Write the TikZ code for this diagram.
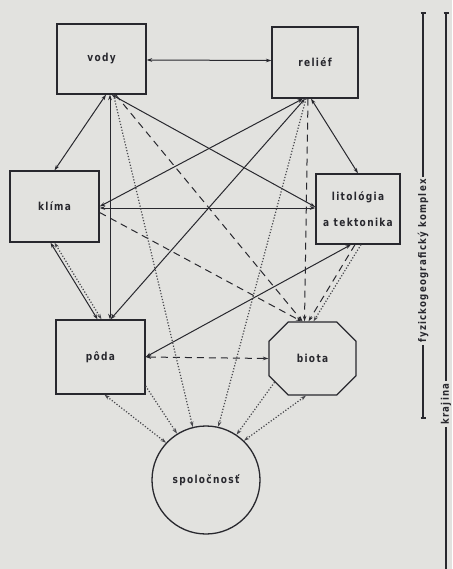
\documentclass[tikz,border=0pt]{standalone}
\usepackage{fontspec}
\newfontfamily\lab{DejaVu Sans}[FakeStretch=0.82,LetterSpace=12]
\usetikzlibrary{arrows.meta,shapes.misc,calc}
\definecolor{bg}{RGB}{226,226,223}
\definecolor{ink}{RGB}{40,40,46}
\begin{document}
\begin{tikzpicture}[x=1pt,y=-1pt,
  box/.style={draw=ink,line width=1.3pt,fill=bg,minimum width=89pt,minimum height=70pt,inner sep=2pt,font=\lab\bfseries\fontsize{11}{13}\selectfont,text=ink},
  oct/.style={box,chamfered rectangle,chamfered rectangle xsep=13pt,chamfered rectangle ysep=13pt,minimum width=87pt,minimum height=73pt},
  circ/.style={box,circle,minimum size=108pt},
  tipa/.tip={Stealth[length=5.5pt,width=3.6pt]},
  sol/.style={draw=ink,line width=1pt,tipa-tipa},
  dsh/.style={draw=ink,line width=1pt,dash pattern=on 7pt off 5pt,-tipa},
  dshb/.style={dsh,tipa-tipa},
  dot/.style={draw=ink!85,line width=1.2pt,dash pattern=on 1.2pt off 1.8pt,-tipa},
  dotb/.style={dot,tipa-tipa},
  side/.style={font=\lab\bfseries\fontsize{10.5}{12}\selectfont,text=ink,inner sep=2pt,rotate=90},
  rule/.style={draw=ink,line width=1.1pt}]
\fill[bg] (0,0) rectangle (452,569);
\useasboundingbox (0,0) rectangle (452,569);

\node[box] (vody) at (101.5,59) {vody};
\node[box,minimum width=86pt,minimum height=71pt] (relief) at (315,62.5) {reliéf};
\node[box,minimum height=71pt] (klima) at (54.5,206.5) {klíma};
\node[box,minimum width=84pt,minimum height=70pt,align=center] (lito) at (358,209) {litológia\\[13pt]a tektonika};
\node[box,minimum height=74pt] (poda) at (100.5,357) {pôda};
\node[oct] (biota) at (312.5,358.5) {biota};
\node[circ] (spol) at (206,480) {spoločnosť};

% solid connectors
\draw[sol] ($(vody.east)+(0,1)$) -- ($(relief.west)+(0,-2)$);
\draw[sol] (klima.north) -- ($(vody.south)+(4.5,0)$);
\draw[sol] ($(vody.south)+(8.5,0)$) -- ($(poda.north)+(9.5,0)$);
\draw[sol] ($(vody.south)+(10,0)$) -- ($(lito.west)+(0,-2)$);
\draw[sol] ($(klima.east)+(0,1.5)$) -- ($(lito.west)+(0,-1)$);
\draw[sol] (klima.east) -- ($(relief.south)+(-12,0)$);
\draw[sol] ($(poda.north)+(10,0)$) -- ($(relief.south)+(-10,0)$);
\draw[sol] ($(relief.south)+(-4,0)$) -- (lito.north);
\draw[sol] ($(lito.south)+(-7,0)$) -- (poda.east);
\draw[sol] ($(klima.south)+(-4,0)$) -- ($(poda.north)+(-3,0)$);
\draw[dotb] ($(klima.south)+(0,0)$) -- ($(poda.north)+(1,0)$);

% dashed connectors
\draw[dshb] (poda.east) -- (biota.west);
\draw[dsh] ($(vody.south)+(14,0)$) -- ($(biota.north)+(-10,0)$);
\draw[dsh] ($(klima.east)+(0,6)$) -- ($(biota.north)+(-11,0)$);
\draw[dsh] ($(relief.south)+(-7,0)$) -- ($(biota.north)+(-8,0)$);
\draw[dsh] ($(lito.south)+(-3,0)$) -- ($(biota.north)+(-4,0)$);

% dotted connectors
\draw[dot] ($(vody.south)+(12,0)$) -- (spol.104);
\draw[dot] ($(relief.south)+(-9,0)$) -- (spol.77);
\draw[dot] ($(lito.south)+(3,0)$) -- ($(biota.north)+(1,0)$);
\draw[dotb] ($(poda.south)+(4,0)$) -- (spol.137);
\draw[dot] ($(poda.east)+(0,29)$) -- (spol.122);
\draw[dot] (biota.212) -- (spol.56);
\draw[dotb] (biota.260) -- (spol.46);

% right-hand brackets
\coordinate (i1) at (423,13);
\coordinate (i4) at (423,418);
\node[side] (fyz) at (423,261) {fyzickogeografický komplex};
\coordinate (o1) at (446,13);
\coordinate (o4) at (446,569);
\node[side] (kraj) at (446,404) {krajina};
\draw[rule] (i1) -- (fyz.east);
\draw[rule] (fyz.west) -- (i4);
\draw[rule] ($(i1)+(-2.5,0)$) -- ($(i1)+(2.5,0)$);
\draw[rule] ($(i4)+(-2.5,0)$) -- ($(i4)+(2.5,0)$);
\draw[rule] (o1) -- (kraj.east);
\draw[rule] (kraj.west) -- (o4);
\draw[rule] ($(o1)+(-2.5,0)$) -- ($(o1)+(2.5,0)$);
\end{tikzpicture}
\end{document}
